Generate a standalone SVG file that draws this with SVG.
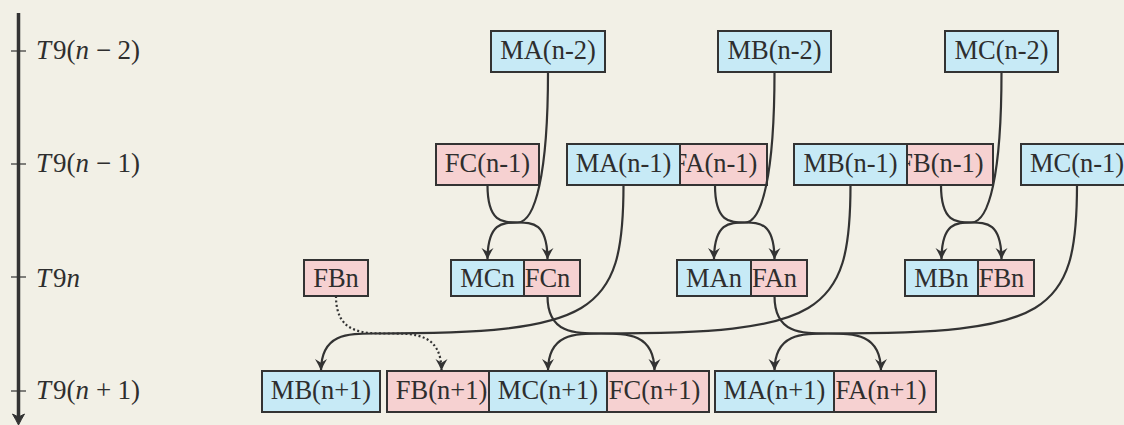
<svg xmlns="http://www.w3.org/2000/svg" width="1124" height="425" viewBox="0 0 1124 425">
<defs>
<style>
text{font-family:"Liberation Serif","Times New Roman",serif;fill:#2e2e2e}
.n{font-size:26.5px;text-anchor:middle}
.ax{font-size:27px}
.i{font-style:italic}
.m rect{fill:#c7eaf6;stroke:#333333;stroke-width:2}
.f rect{fill:#f6d1d1;stroke:#333333;stroke-width:2}
.e path{fill:none;stroke:#333333;stroke-width:2.2;marker-end:url(#arr)}
.e path.dot{stroke-dasharray:2 2.4}
</style>
<marker id="arr" markerUnits="userSpaceOnUse" markerWidth="16" markerHeight="16" refX="12" refY="7" orient="auto">
<path d="M0,1 Q6.5,5 12,7 Q6.5,9 0,13 L3.8,7 Z" fill="#333333"/>
</marker>
</defs>
<rect width="1124" height="425" fill="#f2f0e6"/>

<g id="axis">
<line x1="18.5" y1="13" x2="18.5" y2="418" stroke="#333333" stroke-width="3.5"/>
<path d="M18.5,425 Q15.5,419 12.5,414 L18.5,417 L24.5,414 Q21.5,419 18.5,425 Z" fill="#333333" stroke="#333333" stroke-width="1"/>
<g stroke="#333333" stroke-width="1.2">
<line x1="11" y1="51" x2="26" y2="51"/>
<line x1="11" y1="164" x2="26" y2="164"/>
<line x1="11" y1="277" x2="26" y2="277"/>
<line x1="11" y1="391" x2="26" y2="391"/>
</g>
<text class="ax" y="58.5"><tspan class="i" x="36">T</tspan><tspan x="53">9</tspan><tspan x="66.5">(</tspan><tspan class="i" x="75.5">n</tspan><tspan x="96">−</tspan><tspan x="117.5">2</tspan><tspan x="131">)</tspan></text>
<text class="ax" y="171.5"><tspan class="i" x="36">T</tspan><tspan x="53">9</tspan><tspan x="66.5">(</tspan><tspan class="i" x="75.5">n</tspan><tspan x="96">−</tspan><tspan x="117.5">1</tspan><tspan x="131">)</tspan></text>
<text class="ax" y="286.5"><tspan class="i" x="36">T</tspan><tspan x="53">9</tspan><tspan class="i" x="66.5">n</tspan></text>
<text class="ax" y="398.5"><tspan class="i" x="36">T</tspan><tspan x="53">9</tspan><tspan x="66.5">(</tspan><tspan class="i" x="75.5">n</tspan><tspan x="96">+</tspan><tspan x="117.5">1</tspan><tspan x="131">)</tspan></text>
</g>

<!-- F nodes (drawn first, underneath) -->
<g id="FC_nm1" class="f"><rect x="436" y="144" width="103" height="41"/><text class="n" x="487.5" y="172">FC(n-1)</text></g>
<g id="FA_nm1" class="f"><rect x="663" y="144" width="104" height="41"/><text class="n" x="715" y="172">FA(n-1)</text></g>
<g id="FB_nm1" class="f"><rect x="889" y="144" width="104" height="41"/><text class="n" x="941" y="172">FB(n-1)</text></g>
<g id="FBn_a" class="f"><rect x="304" y="260" width="64" height="36"/><text class="n" x="336" y="286.5">FBn</text></g>
<g id="FCn" class="f"><rect x="515" y="260" width="65" height="36"/><text class="n" x="547.5" y="286.5">FCn</text></g>
<g id="FAn" class="f"><rect x="742" y="260" width="65" height="36"/><text class="n" x="774.5" y="286.5">FAn</text></g>
<g id="FBn_b" class="f"><rect x="969" y="260" width="65" height="36"/><text class="n" x="1001.5" y="286.5">FBn</text></g>
<g id="FB_np1" class="f"><rect x="387" y="371" width="109" height="41"/><text class="n" x="441.5" y="399">FB(n+1)</text></g>
<g id="FC_np1" class="f"><rect x="600" y="371" width="109" height="41"/><text class="n" x="654.5" y="399">FC(n+1)</text></g>
<g id="FA_np1" class="f"><rect x="826" y="371" width="110" height="41"/><text class="n" x="881" y="399">FA(n+1)</text></g>

<!-- M nodes -->
<g id="MA_nm2" class="m"><rect x="491" y="31" width="114" height="41"/><text class="n" x="548" y="59">MA(n-2)</text></g>
<g id="MB_nm2" class="m"><rect x="718" y="31" width="113" height="41"/><text class="n" x="774.5" y="59">MB(n-2)</text></g>
<g id="MC_nm2" class="m"><rect x="945" y="31" width="113" height="41"/><text class="n" x="1001.5" y="59">MC(n-2)</text></g>
<g id="MA_nm1" class="m"><rect x="567" y="144" width="113" height="41"/><text class="n" x="623.5" y="172">MA(n-1)</text></g>
<g id="MB_nm1" class="m"><rect x="794" y="144" width="113" height="41"/><text class="n" x="850.5" y="172">MB(n-1)</text></g>
<g id="MC_nm1" class="m"><rect x="1021" y="144" width="112" height="41"/><text class="n" x="1077" y="172">MC(n-1)</text></g>
<g id="MCn" class="m"><rect x="451" y="260" width="73" height="36"/><text class="n" x="487.5" y="286.5">MCn</text></g>
<g id="MAn" class="m"><rect x="677" y="260" width="74" height="36"/><text class="n" x="714" y="286.5">MAn</text></g>
<g id="MBn" class="m"><rect x="905" y="260" width="73" height="36"/><text class="n" x="941.5" y="286.5">MBn</text></g>
<g id="MB_np1" class="m"><rect x="262" y="371" width="118" height="41"/><text class="n" x="321" y="399">MB(n+1)</text></g>
<g id="MC_np1" class="m"><rect x="489" y="371" width="118" height="41"/><text class="n" x="548" y="399">MC(n+1)</text></g>
<g id="MA_np1" class="m"><rect x="715" y="371" width="119" height="41"/><text class="n" x="774.5" y="399">MA(n+1)</text></g>

<g id="connectors" class="e">
<path d="M487.5,185 C487.5,260 547.5,185 547.5,260"/>
<path d="M548,72 C548,175 535,222.5 517.5,222.5 C502.5,222.5 487.5,222.5 487.5,260"/>
<path d="M715,185 C715,260 774.5,185 774.5,260"/>
<path d="M774.5,72 C774.5,175 762,222.5 744.75,222.5 C729.4,222.5 714,222.5 714,260"/>
<path d="M941,185 C941,260 1001.5,185 1001.5,260"/>
<path d="M1001.5,72 C1001.5,175 989,222.5 971.25,222.5 C956.4,222.5 941.5,222.5 941.5,260"/>
<path d="M547.5,296 C547.5,371 654.5,296 654.5,371"/>
<path d="M850.5,185 C850.5,315 821,333.5 601,333.5 C574.3,333.5 548,333.5 548,371"/>
<path d="M774.5,296 C774.5,371 881,296 881,371"/>
<path d="M1077,185 C1077,315 1048,333.5 828,333.5 C801.4,333.5 774.5,333.5 774.5,371"/>
<path d="M623.5,185 C623.5,315 594,333.5 374,333.5 C347.5,333.5 321,333.5 321,371"/>
<path class="dot" d="M336,296 C336,371 441.5,296 441.5,371"/>
</g>
</svg>
